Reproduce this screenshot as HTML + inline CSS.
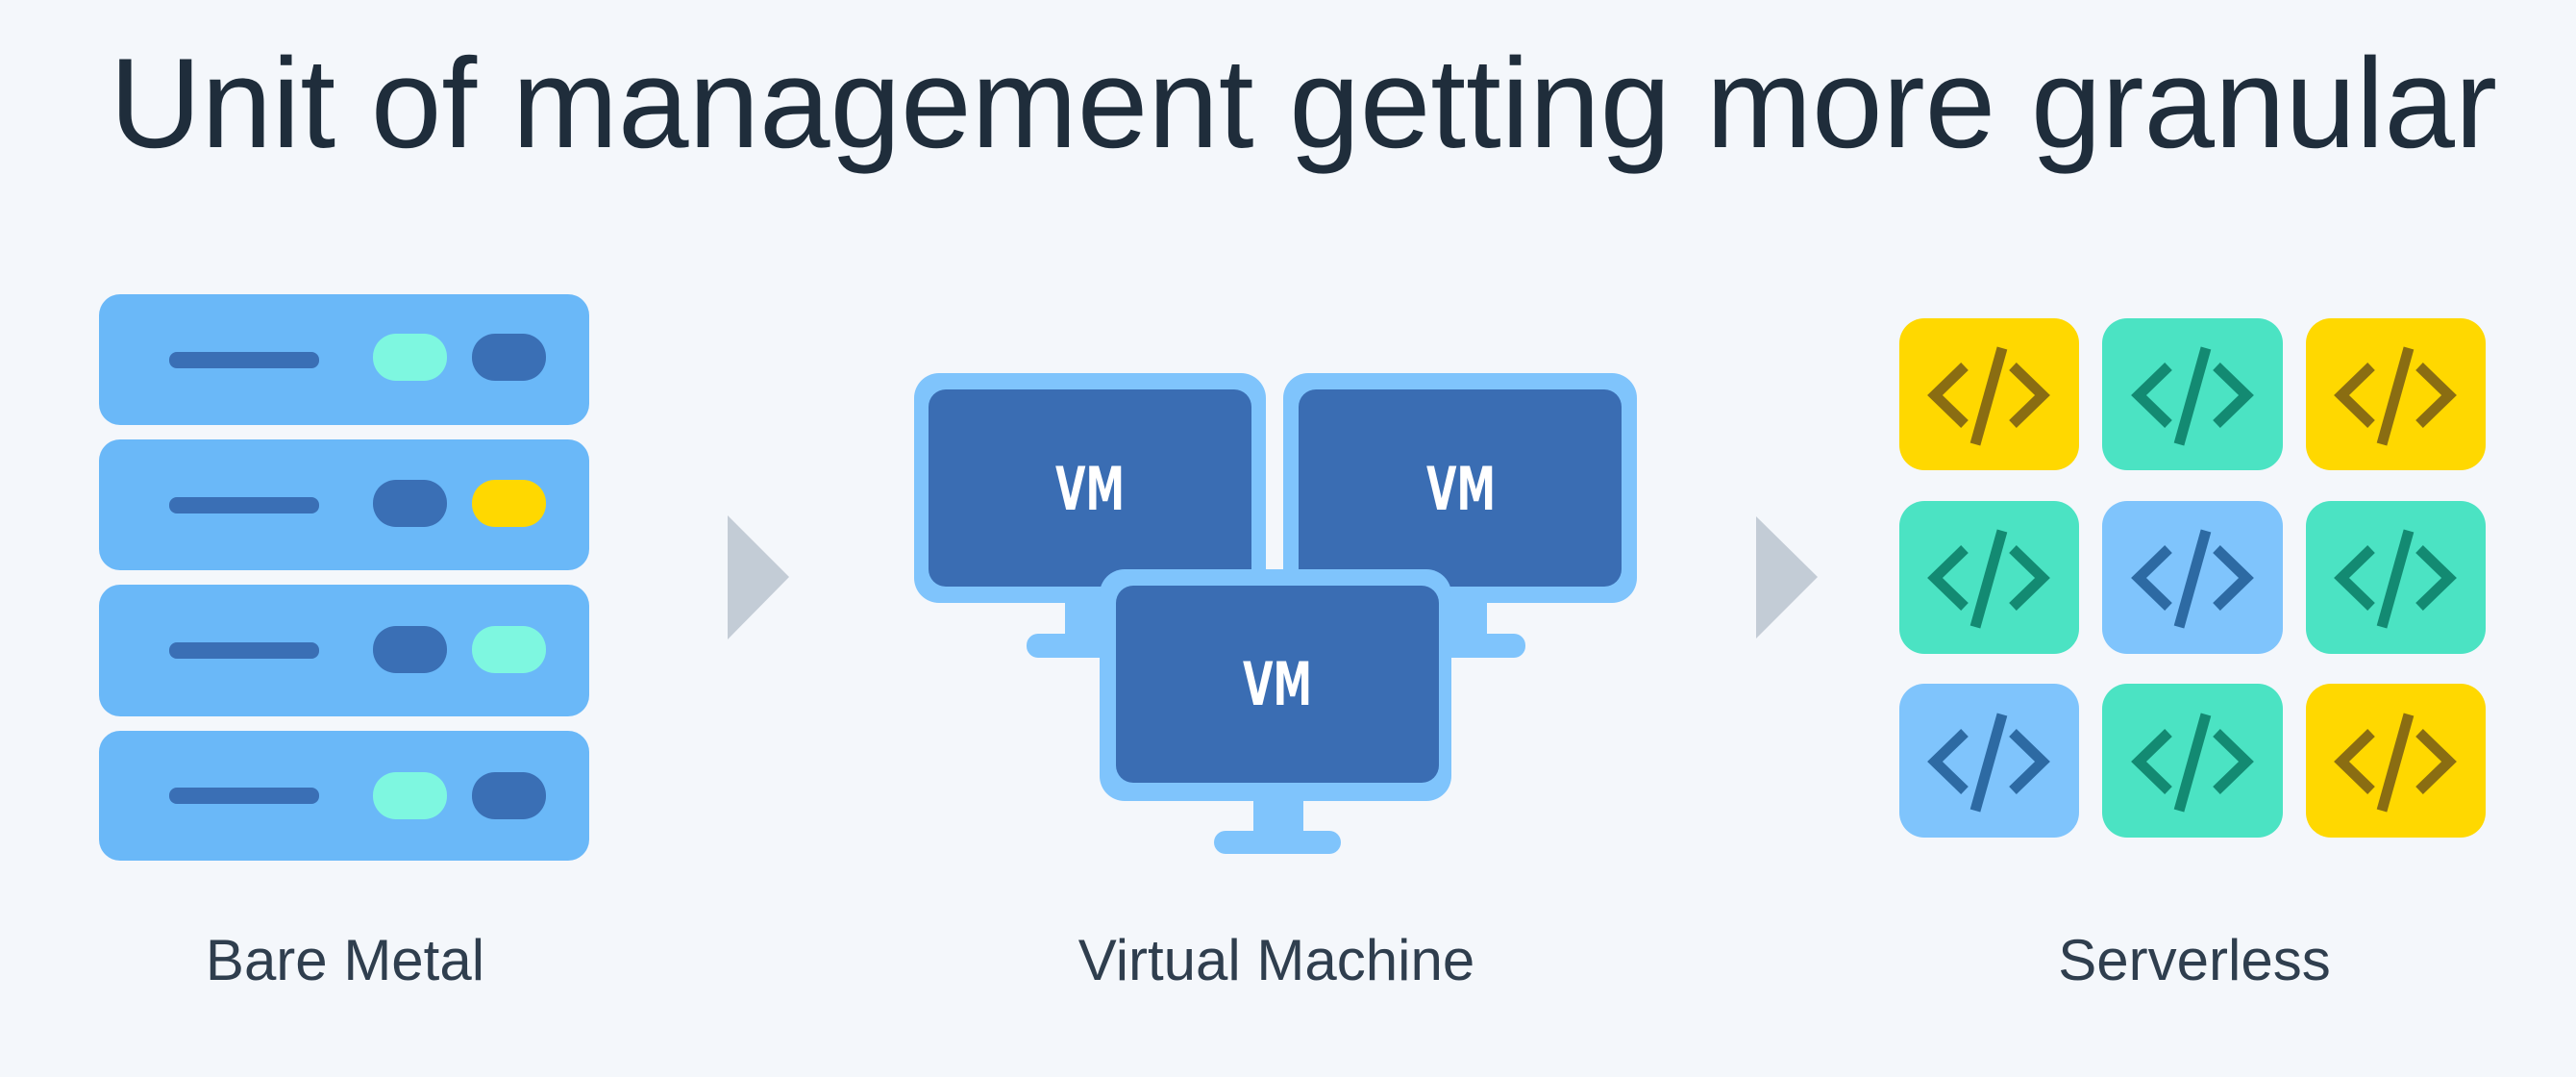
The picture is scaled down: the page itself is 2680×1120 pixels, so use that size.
<!DOCTYPE html>
<html><head><meta charset="utf-8"><style>
html,body{margin:0;padding:0;background:#f4f7fb;}
svg{display:block;}
</style></head><body>
<svg width="2680" height="1120" viewBox="0 0 2680 1120" xmlns="http://www.w3.org/2000/svg">
<rect width="2680" height="1120" fill="#f4f7fb"/>
<text x="114" y="153" font-family="Liberation Sans, sans-serif" font-size="133" fill="#1f2d3b" textLength="2484" lengthAdjust="spacingAndGlyphs">Unit of management getting more granular</text>

<!-- Bare metal -->
<g>
  <rect x="103" y="306" width="510" height="136" rx="22" fill="#6ab8f8"/>
  <rect x="103" y="457" width="510" height="136" rx="22" fill="#6ab8f8"/>
  <rect x="103" y="608" width="510" height="137" rx="22" fill="#6ab8f8"/>
  <rect x="103" y="760" width="510" height="135" rx="22" fill="#6ab8f8"/>
  <g fill="#3a6fb5">
    <rect x="176" y="366" width="156" height="17" rx="8"/>
    <rect x="176" y="517" width="156" height="17" rx="8"/>
    <rect x="176" y="668" width="156" height="17" rx="8"/>
    <rect x="176" y="819" width="156" height="17" rx="8"/>
  </g>
  <rect x="388" y="347" width="77" height="49" rx="24" fill="#7ef7e0"/>
  <rect x="491" y="347" width="77" height="49" rx="24" fill="#3a6fb5"/>
  <rect x="388" y="499" width="77" height="49" rx="24" fill="#3a6fb5"/>
  <rect x="491" y="499" width="77" height="49" rx="24" fill="#ffd800"/>
  <rect x="388" y="651" width="77" height="49" rx="24" fill="#3a6fb5"/>
  <rect x="491" y="651" width="77" height="49" rx="24" fill="#7ef7e0"/>
  <rect x="388" y="803" width="77" height="49" rx="24" fill="#7ef7e0"/>
  <rect x="491" y="803" width="77" height="49" rx="24" fill="#3a6fb5"/>
</g>

<polygon points="757,536 821,600 757,665" fill="#c3ccd6"/>
<polygon points="1827,537 1891,600 1827,664" fill="#c3ccd6"/>

<!-- VMs -->
<g>
  <rect x="1108" y="620" width="52" height="45" fill="#7fc4fc"/>
  <rect x="1068" y="659" width="132" height="25" rx="12" fill="#7fc4fc"/>
  <rect x="1495" y="620" width="52" height="45" fill="#7fc4fc"/>
  <rect x="1455" y="659" width="132" height="25" rx="12" fill="#7fc4fc"/>
  <rect x="951" y="388" width="366" height="239" rx="26" fill="#7fc4fc"/>
  <rect x="966" y="405" width="336" height="205" rx="18" fill="#3a6db3"/>
  <rect x="1335" y="388" width="368" height="239" rx="26" fill="#7fc4fc"/>
  <rect x="1351" y="405" width="336" height="205" rx="18" fill="#3a6db3"/>
  <text x="1098" y="530" font-family="DejaVu Sans, sans-serif" font-weight="bold" font-size="62" fill="#ffffff" textLength="72" lengthAdjust="spacingAndGlyphs">VM</text>
  <text x="1484" y="530" font-family="DejaVu Sans, sans-serif" font-weight="bold" font-size="62" fill="#ffffff" textLength="72" lengthAdjust="spacingAndGlyphs">VM</text>
  <rect x="1304" y="825" width="52" height="45" fill="#7fc4fc"/>
  <rect x="1263" y="864" width="132" height="24" rx="12" fill="#7fc4fc"/>
  <rect x="1144" y="592" width="366" height="241" rx="26" fill="#7fc4fc"/>
  <rect x="1161" y="609" width="336" height="205" rx="18" fill="#3a6db3"/>
  <text x="1293" y="733" font-family="DejaVu Sans, sans-serif" font-weight="bold" font-size="62" fill="#ffffff" textLength="72" lengthAdjust="spacingAndGlyphs">VM</text>
</g>

<!-- Serverless -->
<defs>
  <g id="code">
    <polyline points="-25,-29 -56,1 -25,31" fill="none" stroke-width="11"/>
    <polyline points="25,-29 56,1 25,31" fill="none" stroke-width="11"/>
    <line x1="14" y1="-48" x2="-14" y2="52" stroke-width="11"/>
  </g>
</defs>
<g>
  <rect x="1976" y="331" width="187" height="158" rx="26" fill="#ffd800"/>
  <use href="#code" x="2069" y="410" stroke="#8a6d12"/>
  <rect x="2187" y="331" width="188" height="158" rx="26" fill="#4be3c3"/>
  <use href="#code" x="2281" y="410" stroke="#138a72"/>
  <rect x="2399" y="331" width="187" height="158" rx="26" fill="#ffd800"/>
  <use href="#code" x="2492" y="410" stroke="#8a6d12"/>

  <rect x="1976" y="521" width="187" height="159" rx="26" fill="#4be3c3"/>
  <use href="#code" x="2069" y="600" stroke="#138a72"/>
  <rect x="2187" y="521" width="188" height="159" rx="26" fill="#7fc4fc"/>
  <use href="#code" x="2281" y="600" stroke="#2d6aa3"/>
  <rect x="2399" y="521" width="187" height="159" rx="26" fill="#4be3c3"/>
  <use href="#code" x="2492" y="600" stroke="#138a72"/>

  <rect x="1976" y="711" width="187" height="160" rx="26" fill="#7fc4fc"/>
  <use href="#code" x="2069" y="791" stroke="#2d6aa3"/>
  <rect x="2187" y="711" width="188" height="160" rx="26" fill="#4be3c3"/>
  <use href="#code" x="2281" y="791" stroke="#138a72"/>
  <rect x="2399" y="711" width="187" height="160" rx="26" fill="#ffd800"/>
  <use href="#code" x="2492" y="791" stroke="#8a6d12"/>
</g>

<g font-family="Liberation Sans, sans-serif" font-size="60" fill="#2f3e4e" text-anchor="middle">
  <text x="359" y="1019">Bare Metal</text>
  <text x="1328" y="1019">Virtual Machine</text>
  <text x="2283" y="1019">Serverless</text>
</g>
</svg>
</body></html>
